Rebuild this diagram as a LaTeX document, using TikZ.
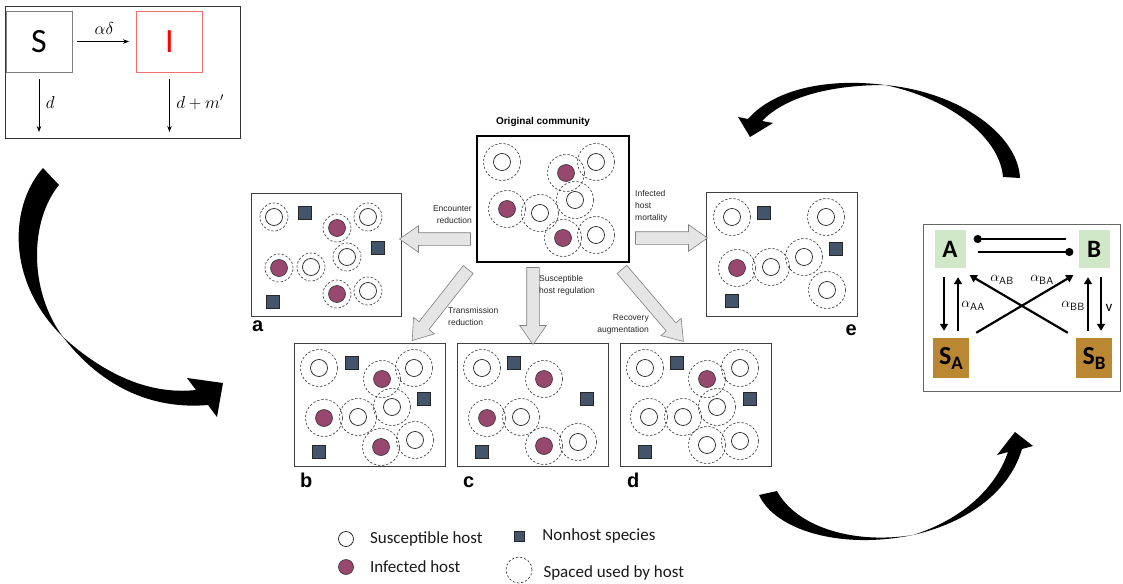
\documentclass[tikz,border=0pt]{standalone}
\usepackage{fontspec}
\setmainfont{Carlito}
\newfontfamily\arialf{Liberation Sans}
\usepackage{tikz}
\usetikzlibrary{arrows.meta,positioning,calc,shapes.arrows}
\definecolor{infcol}{RGB}{152,72,110}
\definecolor{nhcol}{RGB}{68,84,106}
\definecolor{abgreen}{RGB}{208,232,200}
\definecolor{sbrown}{RGB}{186,136,50}
\definecolor{ired}{RGB}{240,110,110}
\tikzset{
  panelbox/.style={draw=black!75, line width=0.8pt, minimum width=151, minimum height=123,
                   anchor=north west, inner sep=0pt, outer sep=0pt},
  hostring/.style={draw=black!80, dash pattern=on 2.4pt off 1.8pt, line width=0.6pt},
  shost/.style={draw=black!85, fill=white, line width=0.75pt},
  ihost/.style={draw=black!80, fill=infcol, line width=0.6pt},
  nonhost/.style={draw=black!85, fill=nhcol, line width=0.5pt},
  blockarr/.style={single arrow, draw=black!50, fill=black!10, line width=0.6pt, inner sep=6pt,
                   outer sep=0pt, single arrow head extend=7pt, single arrow tip angle=70},
  arrlbl/.style={font=\arialf\fontsize{8.5}{12}\selectfont, inner sep=0pt, text=black!85},
  pletter/.style={font=\arialf\bfseries\fontsize{20}{20}\selectfont, inner sep=0pt},
  siarr/.style={-{Stealth[length=6pt,width=4.5pt]}, line width=1pt},
  modbox/.style={minimum width=66, minimum height=61, inner sep=0pt, line width=0.8pt,
                 font=\fontsize{34}{34}\selectfont},
  abox/.style={fill=abgreen, minimum width=31, minimum height=38, inner sep=0pt,
               font=\bfseries\fontsize{25}{25}\selectfont},
  sbox/.style={fill=sbrown, minimum width=36, minimum height=40, inner sep=0pt,
               font=\bfseries\fontsize{26}{26}\selectfont},
  rarr/.style={-{Triangle[length=7pt,width=8pt]}, line width=2.2pt},
  plink/.style={line width=2.4pt},
  alab/.style={font=\fontsize{15}{15}\selectfont, inner sep=0pt},
  legtext/.style={font=\fontsize{17}{17}\selectfont, inner sep=0pt, text=black!90},
  lgsym/.style={circle, inner sep=0pt, minimum size=15pt},
}
\newcommand{\community}[4]{%
  \begin{scope}[shift={(#1.north west)}]
    \foreach \hx/\hy in {#2,#3} \draw[hostring] (\hx,\hy) circle (#4pt);
    \foreach \hx/\hy in {#2} \draw[shost] (\hx,\hy) circle (8.5pt);
    \foreach \hx/\hy in {#3} \draw[ihost] (\hx,\hy) circle (8.5pt);
  \end{scope}}
\newcommand{\nonhosts}[2]{%
  \begin{scope}[shift={(#1.north west)}]
    \foreach \hx/\hy in {#2} \draw[nonhost] (\hx-6.5,\hy-6.5) rectangle ++(13,13);
  \end{scope}}
\newcommand{\blockarrow}[3]{%
  \path let \p1=($(#2)-(#1)$), \n1={veclen(\x1,\y1)}, \n2={atan2(\y1,\x1)} in
    node[blockarr, minimum height=\n1, rotate=\n2] (#3) at ($(#1)!0.5!(#2)$) {};}

\begin{document}
\begin{tikzpicture}[x=1pt,y=-1pt]
\useasboundingbox (0,0) rectangle (1123,583);

\node[draw=black!80, line width=0.8pt, minimum width=235, minimum height=132, anchor=north west,
  inner sep=0pt] (sibox) at (5,6) {};
\node[modbox, draw=black!50] (S) at (39,41.5) {S};
\node[modbox, draw=ired, text=red] (I) at (169.5,41.5) {I};
\coordinate (Sd) at (39,132);
\coordinate (Id) at (169.5,132);
\draw[siarr, shorten <=5pt, shorten >=7pt] (S.east) -- node[above=3pt, font=\fontsize{16}{16}\selectfont] (lad) {$\alpha\delta$} (I.west);
\draw[siarr, shorten <=7pt] (S.south) -- node[right=3pt, font=\fontsize{18}{18}\selectfont] (ld) {$d$} (Sd);
\draw[siarr, shorten <=7pt] (I.south) -- node[right=3pt, font=\fontsize{17}{17}\selectfont] (ldm) {$d+m'$} (Id);

\node[panelbox, draw=black, line width=1.8pt, minimum width=152, minimum height=126] (orig) at (477,136) {};
\node[font=\arialf\bfseries\fontsize{10}{12}\selectfont, inner sep=0pt] (origt) at (543,122) {Original community};
\node[panelbox, minimum width=150] (pa) at (251,193) {};
\node[panelbox] (pb) at (294,343) {};
\node[panelbox] (pc) at (457,343) {};
\node[panelbox] (pd) at (620,343) {};
\node[panelbox, minimum height=124] (pe) at (706,192) {};

\community{orig}{25/26,119/26,98/64,63/77,119/99}{89/37,30/73,86/102}{18.5}
\community{pa}{23/24,117/24,96/64,60/74,117/98}{86/35,28/75,86/101}{14}
\nonhosts{pa}{54/20,127/55,22/109}
\community{pb}{25/25,120/25,98/64,64/74,121/97}{88/36,30/75,87/104}{18.5}
\nonhosts{pb}{58/20,130/56,25/109}
\community{pc}{25/25,64/74,121/99}{87/36,30/75,87/103}{18.5}
\nonhosts{pc}{57/20,130/56,25/109}
\community{pd}{25/25,120/25,97/64,29/74,63/74,87/102,120/98}{87/36}{18.5}
\nonhosts{pd}{57/20,130/56,25/109}
\community{pe}{26/25,120/25,98/65,65/75,121/98}{31/76}{18.5}
\nonhosts{pe}{58/21,130/57,26/109}

\node[pletter, anchor=base west] (la) at ($(pa.south west)+(1,15)$) {a};
\node[pletter, anchor=base west] (lb) at ($(pb.south west)+(6,21)$) {b};
\node[pletter, anchor=base west] (lc) at ($(pc.south west)+(6,21)$) {c};
\node[pletter, anchor=base west] (ldd) at ($(pd.south west)+(7,21)$) {d};
\node[pletter, anchor=base east] (le) at ($(pe.south east)+(0,19)$) {e};

\coordinate (encT) at ($(orig.south west)+(-2,-23)$);
\coordinate (encH) at ($(encT -| pa.east)+(3,0)$);
\coordinate (morT) at ($(orig.south east)+(2,-24)$);
\coordinate (morH) at ($(morT -| pe.west)+(-3,0)$);
\coordinate (trT) at ($(orig.south west)+(-6,4)$);
\coordinate (trH) at ($(pb.north east)+(-30,-6)$);
\coordinate (suT) at ($(orig.south)+(-20,1)$);
\coordinate (suH) at ($(suT |- pc.north)+(0,-3)$);
\coordinate (reT) at ($(orig.south east)+(-10,4)$);
\coordinate (reH) at ($(pd.north)+(-15,-5)$);
\blockarrow{encT}{encH}{aenc}
\blockarrow{morT}{morH}{amor}
\blockarrow{trT}{trH}{atr}
\blockarrow{suT}{suH}{asu}
\blockarrow{reT}{reH}{are}
\node[arrlbl, anchor=east, align=right] (lenc) at (472,215) {Encounter\\reduction};
\node[arrlbl, anchor=west, align=left] (lmor) at (635,206) {Infected\\host\\mortality};
\node[arrlbl, anchor=west, align=left] (ltr) at (448,316) {Transmission\\reduction};
\node[arrlbl, anchor=west, align=left] (lsu) at (539,285) {Susceptible\\host regulation};
\node[arrlbl, anchor=east, align=right] (lre) at (649,324) {Recovery\\augmentation};

\node[draw=black!60, line width=0.8pt, minimum width=197, minimum height=167, anchor=north west,
  inner sep=0pt] (rbox) at (923,224) {};
\node[abox] (A) at (950,249) {A};
\node[abox] (B) at (1094,249) {B};
\node[sbox] (SA) at (951,358) {S\raisebox{-5pt}{\fontsize{19}{19}\selectfont A}};
\node[sbox] (SB) at (1094,358) {S\raisebox{-5pt}{\fontsize{19}{19}\selectfont B}};
\draw[plink, {Circle[length=8pt]}-] ($(A.east)+(8,-10)$) -- ($(B.west)+(-12,-10)$);
\draw[plink, -{Circle[length=8pt]}] ($(A.east)+(12,3)$) -- ($(B.west)+(-5,3)$);
\draw[rarr] ($(A.south)+(-6,9)$) -- ($(SA.north)+(-7,-7)$);
\draw[rarr] ($(SA.north)+(7,-7)$) -- ($(A.south)+(8,9)$);
\draw[rarr] ($(SB.north)+(-6,-7)$) -- ($(B.south)+(-6,9)$);
\draw[rarr] ($(B.south)+(7,9)$) -- ($(SB.north)+(7,-7)$);
\draw[rarr] ($(SA.north east)+(7,-5)$) -- ($(B.south west)+(-5,7)$);
\draw[rarr] ($(SB.north west)+(-8,-5)$) -- ($(A.south east)+(4,7)$);
\node[alab] (laa) at (973,306) {$\alpha_{\mathsf{AA}}$};
\node[alab] (lbb) at (1073,306) {$\alpha_{\mathsf{BB}}$};
\node[alab] (lab) at (1002,280) {$\alpha_{\mathsf{AB}}$};
\node[alab] (lba) at (1042,280) {$\alpha_{\mathsf{BA}}$};
\node[alab] (lv) at (1109,308) {v};

\fill (43,168) .. controls (10,205) and (5,280) .. (63,337) .. controls (100,385) and (150,410) .. (208,405)
  -- (217,417) -- (223,383) -- (187,378) -- (196,390) .. controls (150,395) and (105,375) .. (63,337)
  .. controls (28,290) and (30,220) .. (59,185) -- cycle;
\fill (1020,178) .. controls (1018,135) and (960,92) .. (885,85) .. controls (830,78) and (775,88) .. (748,119)
  -- (738,117) -- (750,137) -- (773,123) -- (762,121) .. controls (785,97) and (830,85) .. (885,85)
  .. controls (955,100) and (1000,140) .. (1003,177) -- cycle;
\fill (759,495) .. controls (775,530) and (840,550) .. (913,535) .. controls (970,522) and (1010,490) .. (1022,449)
  -- (1033,446) -- (1015,432) -- (997,455) -- (1008,452) .. controls (995,490) and (960,520) .. (913,535)
  .. controls (850,545) and (795,525) .. (777,491) -- cycle;

\node[lgsym, shost] (lgS) at (346,539) {};
\node[legtext, right=16pt of lgS] (tgS) {Susceptible host};
\node[lgsym, ihost] (lgI) at (346,567) {};
\node[legtext, right=16pt of lgI] (tgI) {Infected host};
\node[nonhost, minimum size=10pt, inner sep=0pt] (lgN) at (519,536) {};
\node[legtext, right=18pt of lgN] (tgN) {Nonhost species};
\node[hostring, circle, minimum size=26pt, inner sep=0pt] (lgR) at (519,570) {};
\node[legtext, right=11pt of lgR, yshift=-3pt] (tgR) {Spaced used by host};
\end{tikzpicture}
\end{document}
